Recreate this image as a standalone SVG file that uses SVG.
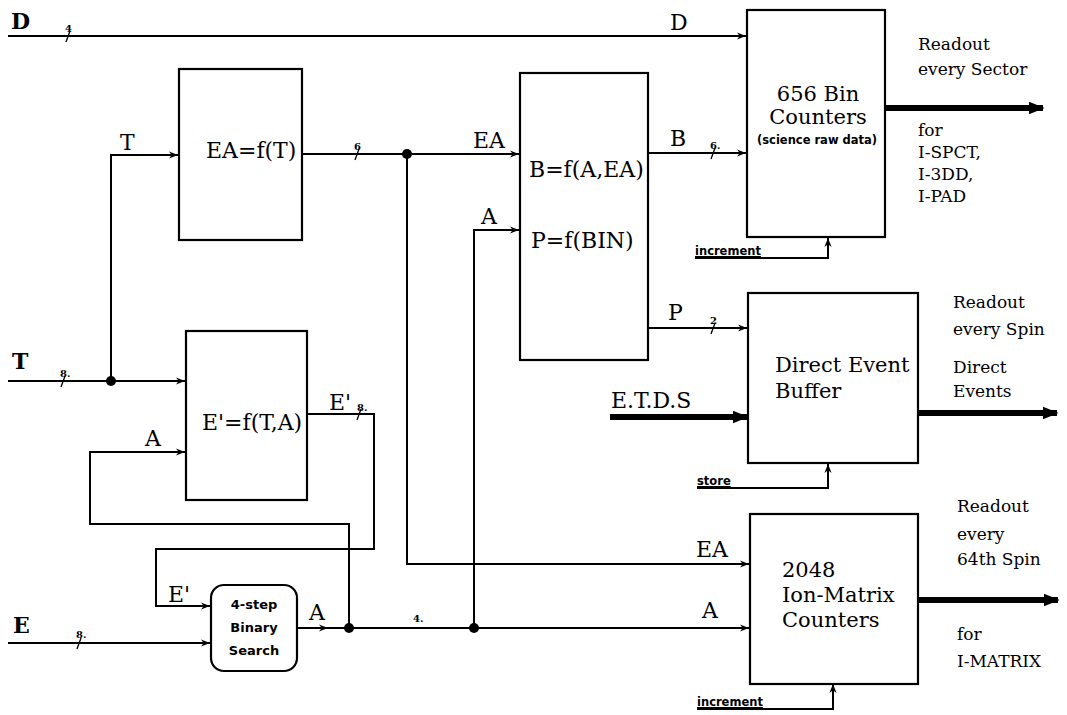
<svg xmlns="http://www.w3.org/2000/svg" width="1067" height="715" viewBox="0 0 1067 715">
<defs>
<marker id="arr" viewBox="0 0 10 10" refX="10" refY="5" markerWidth="9" markerHeight="9" markerUnits="userSpaceOnUse" orient="auto">
<path d="M0,1 L10,5 L0,9 L3,5 Z" fill="#000"/>
</marker>
<marker id="thick" viewBox="0 0 10 10" refX="9" refY="5" markerWidth="16" markerHeight="16" markerUnits="userSpaceOnUse" orient="auto">
<path d="M0,1 L10,5 L0,9 Z" fill="#000"/>
</marker>
</defs>
<style>
.box{fill:#fff;stroke:#000;stroke-width:2.2}
.ln{fill:none;stroke:#000;stroke-width:2}
.thk{fill:none;stroke:#000;stroke-width:6}
.tk{stroke:#000;stroke-width:1.3}
.lab{font-family:"DejaVu Serif","Liberation Serif",serif;font-size:22px;fill:#000}
.fn{font-family:"DejaVu Serif","Liberation Serif",serif;font-size:22px;fill:#000}
.big{font-family:"DejaVu Serif","Liberation Serif",serif;font-size:21px;fill:#000}
.rd{font-family:"DejaVu Serif","Liberation Serif",serif;font-size:17px;fill:#000}
.sm{font-family:"DejaVu Sans","Liberation Sans",sans-serif;font-size:11.5px;font-weight:bold;fill:#000}
.num{font-family:"DejaVu Serif","Liberation Serif",serif;font-size:10px;font-weight:bold;fill:#000}
.bs{font-family:"DejaVu Sans","Liberation Sans",sans-serif;font-size:13px;font-weight:bold;fill:#000}
.dot{fill:#000}
</style>

<g id="connectors">
<path class="ln" d="M8,36 H746" marker-end="url(#arr)"/>
<path class="ln" d="M111,382 V155 H178" marker-end="url(#arr)"/>
<path class="ln" d="M302,154 H519" marker-end="url(#arr)"/>
<path class="ln" d="M407,154 V564 H749" marker-end="url(#arr)"/>
<path class="ln" d="M474,628 V230 H519" marker-end="url(#arr)"/>
<path class="ln" d="M648,153 H746" marker-end="url(#arr)"/>
<path class="ln" d="M695,258 H828 V238" marker-end="url(#arr)"/>
<path class="ln" d="M648,328 H747" marker-end="url(#arr)"/>
<path class="ln" d="M697,488 H828 V464" marker-end="url(#arr)"/>
<path class="ln" d="M697,709 H833 V684" marker-end="url(#arr)"/>
<path class="ln" d="M8,381 H185" marker-end="url(#arr)"/>
<path class="ln" d="M307,414 H374 V549 H156 V606 H210" marker-end="url(#arr)"/>
<path class="ln" d="M349,628 V524 H90 V452 H185" marker-end="url(#arr)"/>
<path class="ln" d="M8,643 H210" marker-end="url(#arr)"/>
<path class="ln" d="M297,628 H328" marker-end="url(#arr)"/>
<path class="ln" d="M326,628 H749" marker-end="url(#arr)"/>
<path class="thk" d="M885,108 H1043" marker-end="url(#thick)"/>
<path class="thk" d="M610,417 H747" marker-end="url(#thick)"/>
<path class="thk" d="M918,413 H1057" marker-end="url(#thick)"/>
<path class="thk" d="M918,600 H1058" marker-end="url(#thick)"/>
<circle class="dot" cx="111" cy="381" r="5"/>
<circle class="dot" cx="407" cy="154" r="5"/>
<circle class="dot" cx="349" cy="628" r="5"/>
<circle class="dot" cx="474" cy="628" r="5"/>
<line class="tk" x1="66" y1="42" x2="70" y2="31"/>
<line class="tk" x1="355" y1="160" x2="359" y2="149"/>
<line class="tk" x1="711" y1="159" x2="715" y2="148"/>
<line class="tk" x1="711" y1="334" x2="715" y2="323"/>
<line class="tk" x1="61" y1="387" x2="65" y2="376"/>
<line class="tk" x1="357" y1="420" x2="361" y2="409"/>
<line class="tk" x1="77" y1="649" x2="81" y2="638"/>
<text class="num" x="65" y="32">4</text>
<text class="num" x="354" y="150">6</text>
<text class="num" x="710" y="149">6.</text>
<text class="num" x="710" y="324">2</text>
<text class="num" x="60" y="377">8.</text>
<text class="num" x="357" y="411">8.</text>
<text class="num" x="76" y="638">8.</text>
<text class="num" x="413" y="622">4.</text>
<text class="lab" x="11" y="29" font-weight="bold">D</text>
<text class="lab" x="670" y="30">D</text>
<text class="lab" x="120" y="150">T</text>
<text class="lab" x="473" y="148">EA</text>
<text class="lab" x="481" y="224">A</text>
<text class="lab" x="670" y="146">B</text>
<text class="lab" x="668" y="320">P</text>
<text class="lab" x="611" y="408">E.T.D.S</text>
<text class="lab" x="696" y="557">EA</text>
<text class="lab" x="702" y="618">A</text>
<text class="lab" x="12" y="369" font-weight="bold">T</text>
<text class="lab" x="329" y="410">E'</text>
<text class="lab" x="145" y="446">A</text>
<text class="lab" x="168" y="602">E'</text>
<text class="lab" x="13" y="633" font-weight="bold">E</text>
<text class="lab" x="309" y="620">A</text>
<text class="sm" x="695" y="255" text-decoration="underline">increment</text>
<text class="sm" x="697" y="485" text-decoration="underline">store</text>
<text class="sm" x="697" y="706" text-decoration="underline">increment</text>
</g>

<g id="ea-box">
<rect class="box" x="179" y="69" width="123" height="171"/>
<text class="fn" x="206" y="158">EA=f(T)</text>
</g>

<g id="b-box">
<rect class="box" x="520" y="73" width="128" height="287"/>
<text class="fn" x="529" y="177">B=f(A,EA)</text>
<text class="fn" x="531" y="248">P=f(BIN)</text>
</g>

<g id="bin-counters">
<rect class="box" x="747" y="10" width="138" height="227"/>
<text class="big" x="818" y="101" text-anchor="middle">656 Bin</text>
<text class="big" x="818" y="124" text-anchor="middle">Counters</text>
<text class="sm" x="817" y="144" text-anchor="middle" font-size="11">(science raw data)</text>
</g>

<g id="readout-sector">
<text class="rd" x="918" y="50">Readout</text>
<text class="rd" x="918" y="75">every Sector</text>
<text class="rd" x="918" y="136">for</text>
<text class="rd" x="918" y="158">I-SPCT,</text>
<text class="rd" x="918" y="180">I-3DD,</text>
<text class="rd" x="918" y="202">I-PAD</text>
</g>

<g id="direct-event-buffer">
<rect class="box" x="748" y="293" width="170" height="170"/>
<text class="big" x="775" y="372" font-size="20">Direct Event</text>
<text class="big" x="775" y="398" font-size="20">Buffer</text>
</g>

<g id="readout-spin">
<text class="rd" x="953" y="308">Readout</text>
<text class="rd" x="953" y="335">every Spin</text>
<text class="rd" x="953" y="373" font-size="15">Direct</text>
<text class="rd" x="953" y="397" font-size="15">Events</text>
</g>

<g id="ion-matrix">
<rect class="box" x="750" y="514" width="168" height="170"/>
<text class="big" x="782" y="577">2048</text>
<text class="big" x="782" y="602">Ion-Matrix</text>
<text class="big" x="782" y="627">Counters</text>
</g>

<g id="readout-64">
<text class="rd" x="957" y="512">Readout</text>
<text class="rd" x="957" y="540">every</text>
<text class="rd" x="957" y="565">64th Spin</text>
<text class="rd" x="957" y="640">for</text>
<text class="rd" x="957" y="667">I-MATRIX</text>
</g>

<g id="e-prime-box">
<rect class="box" x="186" y="331" width="121" height="169"/>
<text class="fn" x="202" y="430">E'=f(T,A)</text>
</g>

<g id="binary-search">
<rect class="box" x="211" y="585" width="86" height="86" rx="13"/>
<text class="bs" x="254" y="609" text-anchor="middle">4-step</text>
<text class="bs" x="254" y="632" text-anchor="middle">Binary</text>
<text class="bs" x="254" y="655" text-anchor="middle">Search</text>
</g>
</svg>
